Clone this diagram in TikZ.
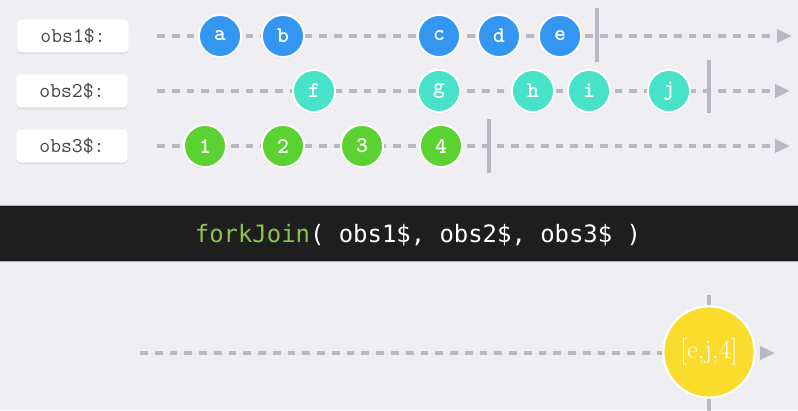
\documentclass[tikz,border=0pt]{standalone}
\usepackage{fontspec}
\newfontfamily\codefont{DejaVu Sans Mono}
\usetikzlibrary{arrows.meta,shadows}
\definecolor{bg}{RGB}{239,239,243}
\definecolor{linegray}{RGB}{184,184,196}
\definecolor{labeltext}{RGB}{70,70,70}
\definecolor{obsblue}{RGB}{51,150,240}
\definecolor{obsteal}{RGB}{72,226,200}
\definecolor{obsgreen}{RGB}{90,210,50}
\definecolor{resyellow}{RGB}{250,220,45}
\definecolor{codebg}{RGB}{30,30,30}
\definecolor{codegreen}{RGB}{140,195,75}
\tikzset{>={Triangle[length=10.5pt,width=9pt]}}

\begin{document}
\begin{tikzpicture}[x=0.025cm,y=-0.025cm,
    namebox/.style={draw=none, fill=white, rounded corners=3pt, minimum width=79pt, minimum height=23.4pt,
        text=labeltext, font=\ttfamily\fontsize{15}{15}\selectfont,
        drop shadow={opacity=0.15, shadow xshift=0pt, shadow yshift=-1.4pt}},
    marble/.style={circle, draw=white, line width=1.4pt, minimum size=30pt, inner sep=0pt, text=white,
        font=\ttfamily\bfseries\fontsize{16}{16}\selectfont,
        drop shadow={opacity=0.12, shadow xshift=0pt, shadow yshift=-1pt}},
    timeline/.style={->, draw=linegray, fill=linegray, line width=2.8pt, dash pattern=on 5.5pt off 5pt},
    endbar/.style={draw=linegray, line width=2.2pt}]
    \useasboundingbox[fill=bg] (0,0) rectangle (798,410);

    % stream names
    \node[namebox] (obs1) at (73,36) {obs1\$:};
    \node[namebox] (obs2) at (72,91) {obs2\$:};
    \node[namebox] (obs3) at (72,146) {obs3\$:};

    % time lines
    \coordinate (s1) at (157,36);  \coordinate (t1) at (792,36);
    \coordinate (s2) at (157,91);  \coordinate (t2) at (790,91);
    \coordinate (s3) at (157,146); \coordinate (t3) at (790,146);
    \draw[timeline] (s1) -- (t1);
    \draw[timeline] (s2) -- (t2);
    \draw[timeline] (s3) -- (t3);
    \draw[endbar] (597,8) -- (597,62);
    \draw[endbar] (709,60) -- (709,113);
    \draw[endbar] (489,119) -- (489,173);

    % obs1$
    \node[marble, fill=obsblue] (a) at (220,36) {a};
    \node[marble, fill=obsblue] (b) at (283,36) {b};
    \node[marble, fill=obsblue] (c) at (439,36) {c};
    \node[marble, fill=obsblue] (d) at (499,36) {d};
    \node[marble, fill=obsblue] (e) at (560,36) {e};
    % obs2$
    \node[marble, fill=obsteal] (f) at (314,91) {f};
    \node[marble, fill=obsteal] (g) at (439,91) {g};
    \node[marble, fill=obsteal] (h) at (533,91) {h};
    \node[marble, fill=obsteal] (i) at (589,91) {i};
    \node[marble, fill=obsteal] (j) at (669,91) {j};
    % obs3$
    \node[marble, fill=obsgreen] (n1) at (205,146) {1};
    \node[marble, fill=obsgreen] (n2) at (283,146) {2};
    \node[marble, fill=obsgreen] (n3) at (362,146) {3};
    \node[marble, fill=obsgreen] (n4) at (441,146) {4};

    % operator
    \fill[codebg] (-2,205) rectangle (800,261);
    \draw[gray!60, line width=0.7pt] (-2,205) -- (800,205);
    \draw[gray!60, line width=0.7pt] (-2,261) -- (800,261);
    \node[text=white, font=\codefont\fontsize{17}{17}\selectfont] (op) at (418,235)
        {\textcolor{codegreen}{forkJoin}( obs1\$, obs2\$, obs3\$ )};

    % result
    \coordinate (sr) at (140,353); \coordinate (tr) at (775,353);
    \draw[timeline] (sr) -- (tr);
    \draw[endbar] (709,295) -- (709,412);
    \node[marble, fill=resyellow, minimum size=65pt, line width=1.6pt,
        font=\rmfamily\fontsize{19}{19}\selectfont] (res) at (709,352) {[e,j,4]};
\end{tikzpicture}
\end{document}
